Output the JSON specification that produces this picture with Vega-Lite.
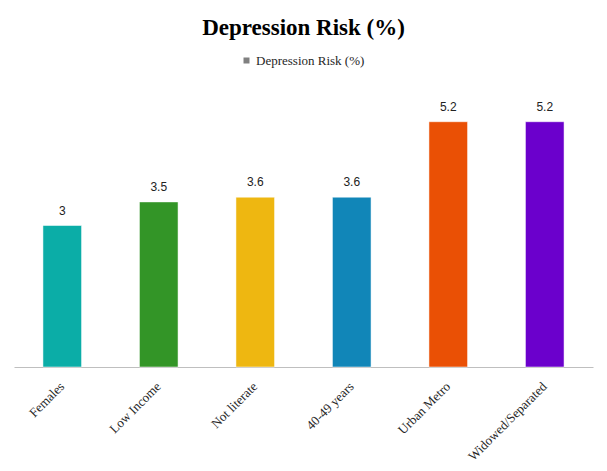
{
  "$schema": "https://vega.github.io/schema/vega-lite/v6.json",
  "autosize": "none",
  "width": 579,
  "height": 283,
  "padding": {"left": 14, "top": 84, "right": 14, "bottom": 104},
  "background": "white",
  "config": {"view": {"stroke": null}},
  "title": {
    "text": "Depression Risk (%)",
    "font": "Liberation Serif",
    "fontSize": 23,
    "fontWeight": "bold",
    "color": "#000000",
    "anchor": "middle",
    "offset": 14
  },
  "data": {
    "values": [
      {"category": "Females", "value": 3, "series": "Depression Risk (%)"},
      {"category": "Low Income", "value": 3.5, "series": "Depression Risk (%)"},
      {"category": "Not literate", "value": 3.6, "series": "Depression Risk (%)"},
      {"category": "40-49 years", "value": 3.6, "series": "Depression Risk (%)"},
      {"category": "Urban Metro", "value": 5.2, "series": "Depression Risk (%)"},
      {"category": "Widowed/Separated", "value": 5.2, "series": "Depression Risk (%)"}
    ]
  },
  "encoding": {
    "x": {
      "field": "category",
      "type": "nominal",
      "sort": null,
      "scale": {"paddingInner": 0.6, "paddingOuter": 0.3},
      "axis": {
        "title": null,
        "labelAngle": -45,
        "labelAlign": "right",
        "labelBaseline": "middle",
        "labelFont": "Liberation Serif",
        "labelFontSize": 13,
        "labelColor": "#262626",
        "labelPadding": 17,
        "ticks": false,
        "domainColor": "#bfbfbf",
        "domainWidth": 1
      }
    }
  },
  "layer": [
    {
      "mark": {"type": "bar", "stroke": "white", "strokeOpacity": 0.5, "strokeWidth": 1},
      "encoding": {
        "y": {
          "field": "value",
          "type": "quantitative",
          "scale": {"domain": [0, 6], "nice": false},
          "axis": null
        },
        "fill": {
          "field": "category",
          "type": "nominal",
          "scale": {
            "domain": ["Females", "Low Income", "Not literate", "40-49 years", "Urban Metro", "Widowed/Separated"],
            "range": ["#0BADA7", "#339527", "#EEB711", "#1186B8", "#EA5005", "#6B00CC"]
          },
          "legend": null
        }
      }
    },
    {
      "mark": {"type": "bar"},
      "encoding": {
        "y": {"datum": 0, "type": "quantitative"},
        "y2": {"datum": 0},
        "color": {
          "field": "series",
          "type": "nominal",
          "scale": {"range": ["#808080"]},
          "legend": {
            "title": null,
            "orient": "none",
            "legendX": 226,
            "legendY": -30,
            "direction": "horizontal",
            "symbolType": "square",
            "symbolSize": 36,
            "symbolStrokeWidth": 0,
            "labelFont": "Liberation Serif",
            "labelFontSize": 13,
            "labelColor": "#262626",
            "labelOffset": 3
          }
        }
      }
    },
    {
      "mark": {"type": "text", "baseline": "bottom", "dy": -8, "font": "Liberation Sans", "fontSize": 12, "color": "#222222"},
      "encoding": {
        "y": {"field": "value", "type": "quantitative"},
        "text": {"field": "value", "type": "quantitative"}
      }
    }
  ]
}
